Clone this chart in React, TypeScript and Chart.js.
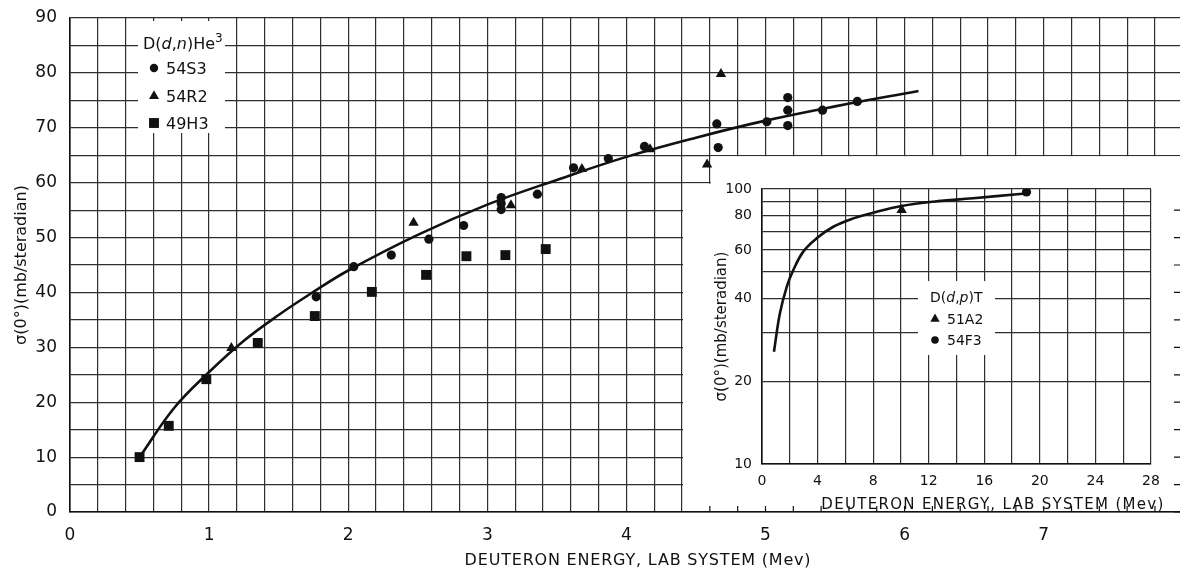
import React, { useEffect, useRef } from 'react';
import { Chart, registerables } from 'chart.js';
Chart.register(...registerables);

// ---------- Main chart data: D(d,n)He3 ----------
const fitX = [0.5, 0.75, 1.0, 1.25, 1.5, 1.75, 2.0, 2.5, 3.0, 3.5, 4.0, 4.5, 5.0, 5.5, 6.1];
const fitY = [10, 19, 25.5, 31.2, 35.9, 40.1, 44, 50.5, 56, 60.5, 64.7, 68.2, 71.3, 73.9, 76.7];

const s54S3X = [1.77, 2.04, 2.31, 2.58, 2.83, 3.1, 3.1, 3.1, 3.36, 3.62, 3.87, 4.13, 4.65, 4.66, 5.01, 5.16, 5.16, 5.16, 5.41, 5.66];
const s54S3Y = [39.2, 44.7, 46.8, 49.7, 52.2, 57.3, 56.2, 55.1, 57.9, 62.7, 64.4, 66.6, 70.7, 66.4, 71.1, 75.5, 73.2, 70.4, 73.2, 74.8];

const s54R2X = [1.16, 2.47, 3.17, 3.68, 4.17, 4.58, 4.68];
const s54R2Y = [29.9, 52.7, 55.9, 62.5, 66.1, 63.3, 79.8];

const s49H3X = [0.5, 0.71, 0.98, 1.35, 1.76, 2.17, 2.56, 2.85, 3.13, 3.42];
const s49H3Y = [10, 15.7, 24.2, 30.8, 35.7, 40.1, 43.2, 46.6, 46.8, 47.9];

const mainXLabels = ['0', '1', '2', '3', '4', '5', '6', '7'];
const mainYLabels = ['0', '10', '20', '30', '40', '50', '60', '70', '80', '90'];

// ---------- Inset data: D(d,p)T ----------
const insetFitX = [0.86, 1.29, 1.78, 2.25, 2.97, 3.94, 5.13, 6.57, 8.01, 10.05, 12.32, 15.2, 18.56, 19.0];
const insetFitY = [25.6, 35.3, 44.1, 50.7, 59.2, 66.2, 72.9, 78.2, 82.0, 86.7, 89.9, 92.5, 95.9, 96.2];
const s51A2X = [10.05];
const s51A2Y = [83.9];
const s54F3X = [19.04];
const s54F3Y = [97.5];
const insetXLabels = ['0', '4', '8', '12', '16', '20', '24', '28'];
const insetYLabels = ['10', '20', '40', '60', '80', '100'];

const FONT = "'DejaVu Sans', 'Liberation Sans', sans-serif";
const INK = '#111111';
const GRID = '#2e2e2e';
const YTITLE = 'σ(0°)(mb/steradian)';
const XTITLE = 'DEUTERON ENERGY, LAB SYSTEM (Mev)';

const pts = (xs: number[], ys: number[]) => xs.map((x, i) => ({ x, y: ys[i] }));

function stepTicks(min: number, max: number, step: number) {
  const out: { value: number }[] = [];
  const n = Math.round((max - min) / step);
  for (let i = 0; i <= n; i++) out.push({ value: +(min + i * step).toFixed(4) });
  return out;
}

function marker(ctx: CanvasRenderingContext2D, style: string, x: number, y: number, r: number) {
  ctx.beginPath();
  if (style === 'circle') ctx.arc(x, y, r, 0, Math.PI * 2);
  else if (style === 'triangle') {
    ctx.moveTo(x, y - r);
    ctx.lineTo(x + r * 0.866, y + r * 0.5);
    ctx.lineTo(x - r * 0.866, y + r * 0.5);
    ctx.closePath();
  } else {
    const h = r * 0.707;
    ctx.rect(x - h, y - h, 2 * h, 2 * h);
  }
  ctx.fill();
}

type Part = [string, boolean?, boolean?];
function drawRich(ctx: CanvasRenderingContext2D, parts: Part[], x: number, y: number, size: number) {
  let cx = x;
  for (const [t, it, sup] of parts) {
    const s = sup ? Math.round(size * 0.72) : size;
    ctx.font = `${it ? 'italic ' : ''}${s}px ${FONT}`;
    ctx.fillText(t, cx, sup ? y - size * 0.45 : y);
    cx += ctx.measureText(t).width;
  }
}

function drawSpaced(ctx: CanvasRenderingContext2D, text: string, cx: number, cy: number, size: number, spacing: number) {
  ctx.save();
  ctx.font = `${size}px ${FONT}`;
  (ctx as any).letterSpacing = `${spacing}px`;
  ctx.fillStyle = INK;
  ctx.textAlign = 'left';
  ctx.textBaseline = 'middle';
  const w = ctx.measureText(text).width;
  ctx.fillText(text, cx - w / 2, cy);
  ctx.restore();
}

const mainDecor = {
  id: 'mainDecor',
  beforeDatasetsDraw(chart: any) {
    const { ctx, chartArea } = chart;
    const x = chart.scales.x;
    const y = chart.scales.y;
    const R = chart.width;
    const x44 = x.getPixelForValue(4.4);
    const x46 = x.getPixelForValue(4.6);
    const y0 = y.getPixelForValue(0);
    const y60 = y.getPixelForValue(60);
    const y65 = y.getPixelForValue(65);
    ctx.save();
    ctx.fillStyle = '#ffffff';
    // cut-out region that holds the inset
    ctx.fillRect(x44 + 1, y60 + 1, R - x44, y0 - y60 - 2);
    ctx.fillRect(x46 + 1, y65 + 1, R - x46, y60 - y65 + 1);
    // legend box
    ctx.fillRect(138, chartArea.top + 3, 87, 133 - chartArea.top - 3);
    // minor ticks along the bottom and right edges of the cut-out
    ctx.strokeStyle = INK;
    ctx.lineWidth = 1.2;
    ctx.beginPath();
    for (let i = 23; i <= 39; i++) {
      const px = x.getPixelForValue(i * 0.2);
      ctx.moveTo(px, y0);
      ctx.lineTo(px, y0 - 6);
    }
    for (let v = 0; v <= 55; v += 5) {
      const py = y.getPixelForValue(v);
      ctx.moveTo(R, py);
      ctx.lineTo(R - 6, py);
    }
    ctx.stroke();
    ctx.restore();
  },
  afterDraw(chart: any) {
    const { ctx } = chart;
    ctx.save();
    ctx.fillStyle = INK;
    ctx.textBaseline = 'alphabetic';
    ctx.textAlign = 'left';
    drawRich(ctx, [['D('], ['d', true], [','], ['n', true], [')He'], ['3', false, true]], 143, 49, 16);
    const rows: [string, string, number][] = [['circle', '54S3', 68], ['triangle', '54R2', 96], ['rect', '49H3', 123]];
    rows.forEach(([st, label, cy]) => {
      marker(ctx, st, 154, cy, st === 'circle' ? 4.2 : st === 'triangle' ? 5.8 : 7);
      ctx.font = `16px ${FONT}`;
      ctx.fillText(label, 166, cy + 6);
    });
    ctx.restore();
    drawSpaced(ctx, XTITLE, 638, 561, 16, 0.8);
  },
};

const insetDecor = {
  id: 'insetDecor',
  beforeDatasetsDraw(chart: any) {
    const { ctx } = chart;
    ctx.save();
    ctx.fillStyle = '#ffffff';
    ctx.fillRect(228, 111, 77, 74);
    ctx.restore();
  },
  afterDraw(chart: any) {
    const { ctx } = chart;
    ctx.save();
    ctx.fillStyle = INK;
    ctx.textBaseline = 'alphabetic';
    ctx.textAlign = 'left';
    drawRich(ctx, [['D('], ['d', true], [','], ['p', true], [')T']], 240, 132, 14);
    const rows: [string, string, number][] = [['triangle', '51A2', 149], ['circle', '54F3', 170]];
    rows.forEach(([st, label, cy]) => {
      marker(ctx, st, 245, cy, st === 'circle' ? 3.8 : 5.4);
      ctx.font = `14px ${FONT}`;
      ctx.fillText(label, 257, cy + 5);
    });
    ctx.restore();
    drawSpaced(ctx, XTITLE, 303, 335, 15, 1.3);
  },
};

const isInt = (v: number) => Math.abs(v - Math.round(v)) < 1e-6;

const fitXAxis = (h: number) => (s: any) => {
  s.height = h;
  s.paddingLeft = 0;
  s.paddingRight = 0;
};
const fitYAxis = (w: number) => (s: any) => {
  s.width = w;
  s.paddingTop = 0;
  s.paddingBottom = 0;
};

export default function App() {
  const mainRef = useRef<HTMLCanvasElement>(null);
  const insetRef = useRef<HTMLCanvasElement>(null);

  useEffect(() => {
    document.body.style.margin = '0';
    document.body.style.overflow = 'hidden';

    const main = new Chart(mainRef.current!, {
      type: 'scatter',
      data: {
        datasets: [
          {
            label: 'fit',
            data: pts(fitX, fitY),
            showLine: true,
            borderColor: INK,
            borderWidth: 2.6,
            pointRadius: 0,
            tension: 0.4,
          } as any,
          { label: '54S3', data: pts(s54S3X, s54S3Y), pointStyle: 'circle', pointRadius: 4.6, backgroundColor: INK, borderColor: INK, borderWidth: 0 },
          { label: '54R2', data: pts(s54R2X, s54R2Y), pointStyle: 'triangle', pointRadius: 6, backgroundColor: INK, borderColor: INK, borderWidth: 0 },
          { label: '49H3', data: pts(s49H3X, s49H3Y), pointStyle: 'rect', pointRadius: 7, backgroundColor: INK, borderColor: INK, borderWidth: 0 },
        ],
      },
      options: {
        responsive: false,
        animation: false,
        events: [],
        layout: { autoPadding: false, padding: { top: 18, right: 0, left: 0, bottom: 0 } },
        plugins: { legend: { display: false }, tooltip: { enabled: false } },
        scales: {
          x: {
            type: 'linear',
            min: 0,
            max: 7.98,
            afterBuildTicks: (s: any) => { s.ticks = stepTicks(0, 7.8, 0.2); },
            afterFit: fitXAxis(59),
            grid: { color: GRID, lineWidth: 1.2, drawTicks: false },
            border: { color: INK, width: 1.6 },
            ticks: {
              autoSkip: false,
              maxRotation: 0,
              padding: 13,
              color: INK,
              font: { family: FONT, size: 17 },
              callback: (v: any) => (isInt(v) ? mainXLabels[Math.round(v)] ?? '' : ''),
            },
          },
          y: {
            type: 'linear',
            min: 0,
            max: 90,
            afterBuildTicks: (s: any) => { s.ticks = stepTicks(0, 90, 5); },
            afterFit: fitYAxis(70),
            grid: { color: GRID, lineWidth: 1.2, drawTicks: false },
            border: { color: INK, width: 1.6 },
            ticks: {
              autoSkip: false,
              padding: 13,
              color: INK,
              font: { family: FONT, size: 17 },
              callback: (v: any) => (Math.round(v) % 10 === 0 ? mainYLabels[Math.round(v) / 10] : ''),
            },
            title: { display: true, text: YTITLE, color: INK, font: { family: FONT, size: 16 }, padding: { top: 12, bottom: 0 } },
          },
        },
      },
      plugins: [mainDecor],
    } as any);

    const inset = new Chart(insetRef.current!, {
      type: 'scatter',
      data: {
        datasets: [
          {
            label: 'fit',
            data: pts(insetFitX, insetFitY),
            showLine: true,
            borderColor: INK,
            borderWidth: 2.6,
            pointRadius: 0,
            tension: 0.4,
          } as any,
          { label: '51A2', data: pts(s51A2X, s51A2Y), pointStyle: 'triangle', pointRadius: 6, backgroundColor: INK, borderWidth: 0 },
          { label: '54F3', data: pts(s54F3X, s54F3Y), pointStyle: 'circle', pointRadius: 4.6, backgroundColor: INK, borderWidth: 0 },
        ],
      },
      options: {
        responsive: false,
        animation: false,
        events: [],
        layout: { autoPadding: false, padding: { top: 19, right: 19, left: 0, bottom: 0 } },
        plugins: { legend: { display: false }, tooltip: { enabled: false } },
        scales: {
          x: {
            type: 'linear',
            min: 0,
            max: 28,
            afterBuildTicks: (s: any) => { s.ticks = stepTicks(0, 28, 2); },
            afterFit: fitXAxis(51),
            grid: { color: GRID, lineWidth: 1.2, drawTicks: false },
            border: { color: INK, width: 1.6 },
            ticks: {
              autoSkip: false,
              maxRotation: 0,
              padding: 9,
              color: INK,
              font: { family: FONT, size: 14 },
              callback: (v: any) => (Math.round(v) % 4 === 0 ? insetXLabels[Math.round(v) / 4] : ''),
            },
          },
          y: {
            type: 'logarithmic',
            min: 10,
            max: 100,
            afterBuildTicks: (s: any) => { s.ticks = stepTicks(10, 100, 10); },
            afterFit: fitYAxis(72),
            grid: { color: GRID, lineWidth: 1.2, drawTicks: false },
            border: { color: INK, width: 1.6 },
            ticks: {
              autoSkip: false,
              padding: 10,
              color: INK,
              font: { family: FONT, size: 14 },
              callback: (v: any) => {
                const s = String(Math.round(v));
                return insetYLabels.includes(s) ? s : '';
              },
            },
            title: { display: true, text: YTITLE, color: INK, font: { family: FONT, size: 15 }, padding: { top: 23, bottom: 0 } },
          },
        },
      },
      plugins: [insetDecor],
    } as any);

    return () => {
      main.destroy();
      inset.destroy();
    };
  }, []);

  return (
    <div style={{ position: 'relative', width: 1180, height: 571, background: '#ffffff', overflow: 'hidden' }}>
      <canvas ref={mainRef} width={1180} height={571} style={{ position: 'absolute', left: 0, top: 0, width: 1180, height: 571 }} />
      <canvas ref={insetRef} width={480} height={345} style={{ position: 'absolute', left: 690, top: 170, width: 480, height: 345 }} />
    </div>
  );
}
